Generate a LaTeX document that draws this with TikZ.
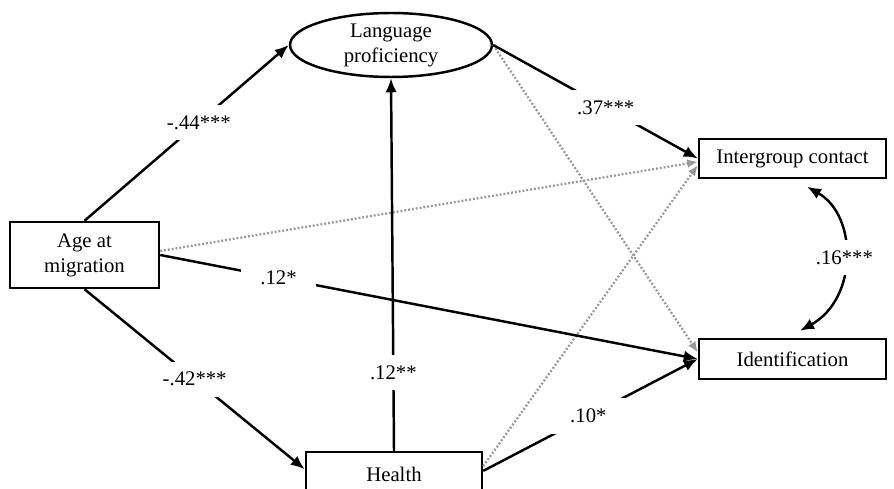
\documentclass[tikz,border=0pt]{standalone}
\usepackage{fontspec}
\setmainfont{Liberation Serif}
\usetikzlibrary{positioning,arrows.meta,shapes.geometric}

\begin{document}
\begin{tikzpicture}[x=0.02cm,y=-0.02cm,
    font=\fontsize{11.8}{14.2}\selectfont,
    >={Latex[length=8pt,width=6.5pt]},
    var/.style={draw,line width=1.4pt,inner sep=0pt,align=center},
    effect/.style={line width=1.4pt,->},
    noeffect/.style={line width=1.3pt,gray!80,dash pattern=on 1.1pt off 1.1pt,
        -{Latex[length=6pt,width=5pt]}},
    coef/.style={fill=white,inner xsep=11pt,inner ysep=6pt}]
    \clip (0,0) rectangle (894,489);
    % Variables
    \node[var,minimum width=2.98cm,minimum height=1.32cm] (age) at (84.5,255) {Age at\\migration};
    \node[var,ellipse,minimum width=4.04cm,minimum height=1.28cm] (lang) at (391,45) {Language\\proficiency};
    \node[var,minimum width=3.52cm,minimum height=0.88cm] (health) at (394,474) {Health};
    \node[var,minimum width=3.74cm,minimum height=0.78cm] (contact) at (792.5,158.5) {Intergroup contact};
    \node[var,minimum width=3.74cm,minimum height=0.8cm] (ident) at (792.5,359) {Identification};
    % Non-significant paths
    \draw[noeffect] (age.3) -- (contact.182);
    \draw[noeffect] (lang.east) -- (ident.176);
    \draw[noeffect] (health.5) -- (contact.184);
    % Significant paths
    \draw[effect] (age.north) -- node[coef,pos=0.56] {-.44***} (lang.west);
    \draw[effect] (age.south) -- node[coef,pos=0.5] {-.42***} (health.177);
    \draw[effect] (age.east) -- node[coef,pos=0.22] {.12*} (ident.west);
    \draw[effect] (lang.east) -- node[coef,pos=0.55] {.37***} (contact.west);
    \draw[effect] (health.north) -- node[coef,pos=0.21] {.12**} (lang.south);
    \draw[effect] (health.2) -- node[coef,pos=0.49] {.10*} (ident.west);
    % Correlation
    \draw[effect,<->] ([xshift=0.29cm,yshift=-0.15cm]contact.south)
        .. controls +(51,29) and +(58,-32) .. node[coef,inner xsep=3pt] {.16***}
        ([xshift=0.15cm,yshift=0.14cm]ident.north);
\end{tikzpicture}
\end{document}
